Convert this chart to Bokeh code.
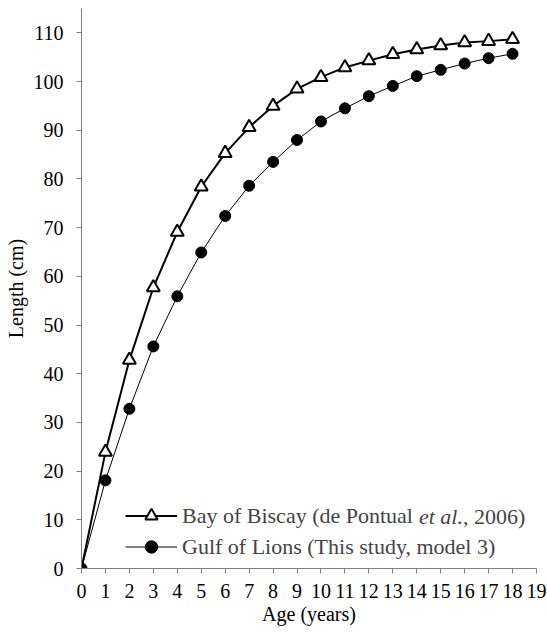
from bokeh.plotting import figure
from bokeh.models import Range1d, FixedTicker, Legend, LegendItem, Label
from bokeh.embed import file_html
from bokeh.resources import INLINE

ages = list(range(0, 19))
biscay = [0, 23.9, 42.8, 57.7, 69.1, 78.4, 85.3, 90.6, 95.0, 98.5, 100.9, 102.9,
          104.3, 105.6, 106.6, 107.4, 108.0, 108.3, 108.7]
lions = [0, 18.1, 32.8, 45.6, 55.9, 64.9, 72.4, 78.6, 83.5, 88.0, 91.8, 94.5,
         97.0, 99.1, 101.1, 102.4, 103.7, 104.8, 105.7]
x_ticks = list(range(0, 20))
y_ticks = list(range(0, 111, 10))

label_a1 = "Bay of Biscay (de Pontual"
label_a2 = "et al."
label_a3 = ", 2006)"
label_b = "Gulf of Lions (This study, model 3)"

FONT = "'Liberation Serif', 'Times New Roman', serif"

W, H = 547, 639
BL, BR, BT, BB = 81, 11, 8, 71
XMAX, YMAX = 19, 115
p = figure(width=W, height=H, output_backend="svg", toolbar_location=None,
           x_range=Range1d(0, XMAX), y_range=Range1d(0, YMAX),
           min_border_left=BL, min_border_right=BR, min_border_top=BT, min_border_bottom=BB)
p.outline_line_color = None
p.xgrid.visible = False
p.ygrid.visible = False

for ax in (p.xaxis[0], p.yaxis[0]):
    ax.axis_line_color = "#808080"
    ax.major_tick_line_color = "#808080"
    ax.minor_tick_line_color = None
    ax.major_tick_in = 0
    ax.major_tick_out = 5
    ax.major_label_text_font = FONT
    ax.major_label_text_font_size = "20px"
    ax.major_label_text_color = "black"
    ax.axis_label_text_font = FONT
    ax.axis_label_text_font_size = "20px"
    ax.axis_label_text_font_style = "normal"
    ax.axis_label_text_color = "black"

p.xaxis.ticker = FixedTicker(ticks=x_ticks)
p.yaxis.ticker = FixedTicker(ticks=y_ticks)
p.xaxis.axis_label = "Age (years)"
p.yaxis.axis_label = "Length (cm)"
p.xaxis.major_label_standoff = 10
p.yaxis.major_label_standoff = 13
p.xaxis.axis_label_standoff = 2
p.yaxis.axis_label_standoff = 4

l1 = p.line(ages, biscay, line_color="black", line_width=2)
m1 = p.scatter(ages, biscay, marker="triangle", size=13, fill_color="white",
               line_color="black", line_width=2)
l2 = p.line(ages, lions, line_color="black", line_width=1)
m2 = p.scatter(ages, lions, marker="circle", size=11, fill_color="black",
               line_color="black")

LEG_FS = 22
LEG_X, LEG_Y = 44, 6
GW, GH, STANDOFF = 52, 31, 5
legend = Legend(items=[
    LegendItem(label=label_a1, renderers=[l1, m1]),
    LegendItem(label=label_b, renderers=[l2, m2]),
], location=(LEG_X, LEG_Y), glyph_width=GW, glyph_height=GH, label_standoff=STANDOFF,
    spacing=0, padding=0, margin=0,
    label_text_font=FONT, label_text_font_size=f"{LEG_FS}px",
    border_line_color=None, background_fill_alpha=0)
p.add_layout(legend)

# Times-compatible advance widths (per 1000 em) to continue the first legend label
ROMAN = {"B": 667, "a": 444, "y": 500, " ": 250, "o": 500, "f": 333, "i": 278, "s": 389,
         "c": 444, "(": 333, "d": 500, "e": 444, "P": 556, "n": 500, "t": 278, "u": 500,
         "l": 278, ",": 250, "2": 500, "0": 500, "6": 500, ")": 333, ".": 250}
ITALIC = {"e": 444, "t": 278, " ": 250, "a": 500, "l": 278, ".": 250}


def width(s, table):
    return sum(table[c] for c in s) * LEG_FS / 1000.0


frame_w = W - BL - BR
frame_h = H - BT - BB
px_x = frame_w / XMAX
px_y = frame_h / YMAX
text_x0 = LEG_X + GW + STANDOFF  # from frame left, in pixels
row1_y = LEG_Y + GH + GH / 2.0   # from frame bottom, in pixels

x_it = text_x0 + width(label_a1 + " ", ROMAN)
x_end = x_it + width(label_a2, ITALIC)
p.add_layout(Label(x=x_it / px_x, y=row1_y / px_y, text=label_a2,
                   text_font=FONT, text_font_size=f"{LEG_FS}px", text_font_style="italic",
                   text_baseline="middle", text_align="left"))
p.add_layout(Label(x=x_end / px_x, y=row1_y / px_y, text=label_a3,
                   text_font=FONT, text_font_size=f"{LEG_FS}px",
                   text_baseline="middle", text_align="left"))

open("out.html", "w").write(file_html(p, INLINE))
